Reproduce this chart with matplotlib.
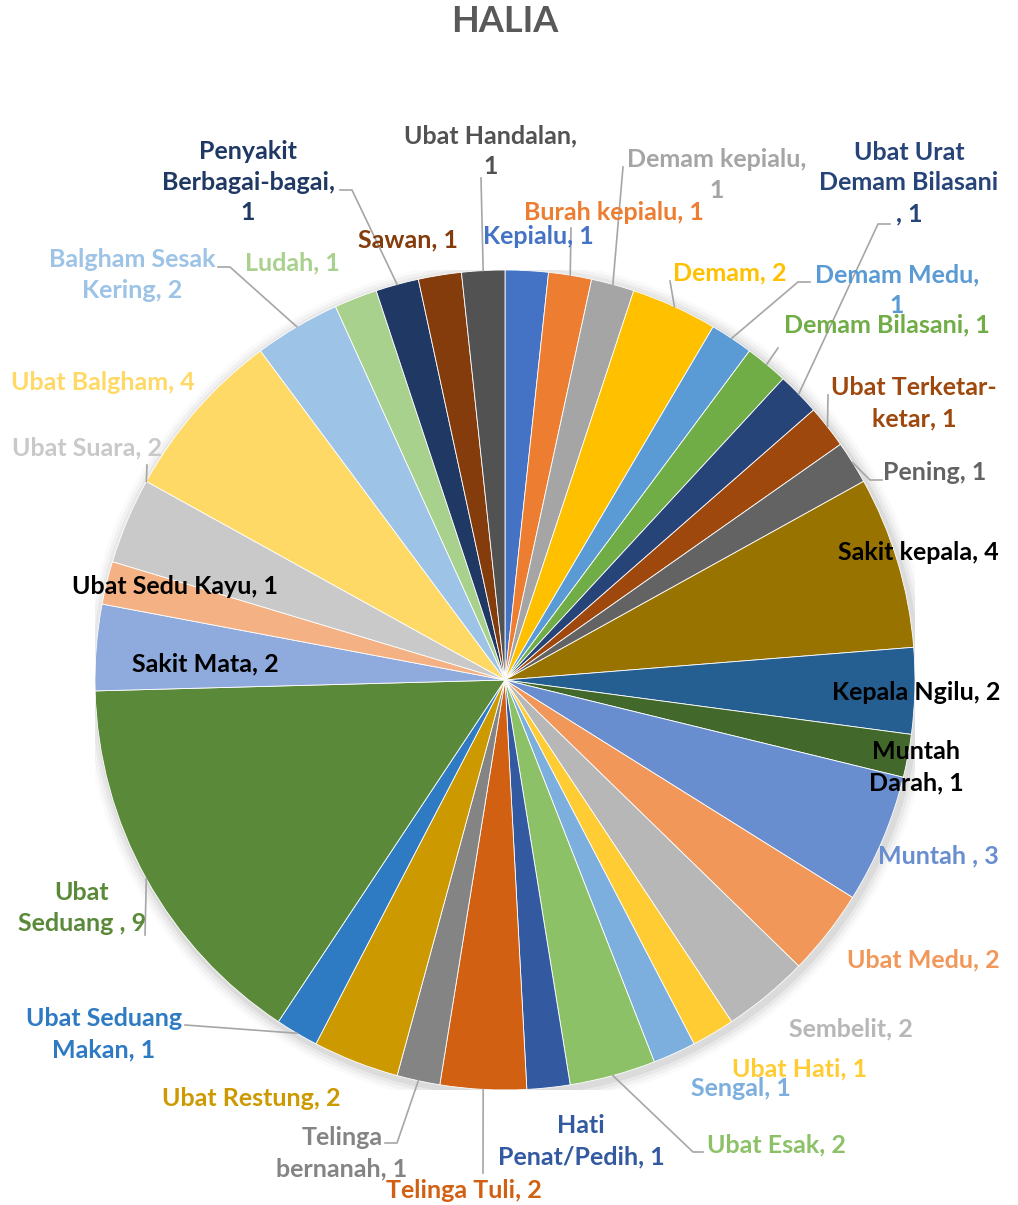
import matplotlib
matplotlib.use("Agg")
import matplotlib.pyplot as plt
import numpy as np
from matplotlib.patches import Circle

plt.rcParams['font.family'] = ['Lato', 'DejaVu Sans']

# ---------------- data ----------------
categories = [
    "Kepialu", "Burah kepialu", "Demam kepialu", "Demam", "Demam Medu",
    "Demam Bilasani", "Ubat Urat Demam Bilasani", "Ubat Terketar-ketar", "Pening",
    "Sakit kepala", "Kepala Ngilu", "Muntah Darah", "Muntah", "Ubat Medu",
    "Sembelit", "Ubat Hati", "Sengal", "Ubat Esak", "Hati Penat/Pedih",
    "Telinga Tuli", "Telinga bernanah", "Ubat Restung", "Ubat Seduang Makan",
    "Ubat Seduang ", "Sakit Mata", "Ubat Sedu Kayu", "Ubat Suara", "Ubat Balgham",
    "Balgham Sesak Kering", "Ludah", "Penyakit Berbagai-bagai", "Sawan",
    "Ubat Handalan",
]
values = [1, 1, 1, 2, 1, 1, 1, 1, 1, 4, 2, 1, 3, 2, 2, 1, 1, 2, 1, 2, 1, 2, 1,
          9, 2, 1, 2, 4, 2, 1, 1, 1, 1]

# label texts as displayed (line breaks as in the chart)
label_texts = [
    "Kepialu, 1", "Burah kepialu, 1", "Demam kepialu,\n1", "Demam, 2",
    "Demam Medu,\n1", "Demam Bilasani, 1", "Ubat Urat\nDemam Bilasani\n, 1",
    "Ubat Terketar-\nketar, 1", "Pening, 1", "Sakit kepala, 4", "Kepala Ngilu, 2",
    "Muntah\nDarah, 1", "Muntah , 3", "Ubat Medu, 2", "Sembelit, 2",
    "Ubat Hati, 1", "Sengal, 1", "Ubat Esak, 2", "Hati\nPenat/Pedih, 1",
    "Telinga Tuli, 2", "Telinga\nbernanah, 1", "Ubat Restung, 2",
    "Ubat Seduang\nMakan, 1", "Ubat\nSeduang , 9", "Sakit Mata, 2",
    "Ubat Sedu Kayu, 1", "Ubat Suara, 2", "Ubat Balgham, 4",
    "Balgham Sesak\nKering, 2", "Ludah, 1", "Penyakit\nBerbagai-bagai,\n1",
    "Sawan, 1", "Ubat Handalan,\n1",
]

colors = [
    "#4472C4", "#ED7D31", "#A5A5A5", "#FFC000", "#5B9BD5", "#70AD47",
    "#264478", "#9E480E", "#636363", "#997300", "#255E91", "#43682B",
    "#698ED0", "#F1975A", "#B7B7B7", "#FFCD33", "#7CAFDD", "#8CC168",
    "#335AA1", "#D26012", "#848484", "#CC9A00", "#2E7BC4", "#5A8A39",
    "#8FAADC", "#F4B183", "#C9C9C9", "#FFD966", "#9DC3E6", "#A9D18E",
    "#203864", "#843C0C", "#525252",
]
label_colors = list(colors)
for name in ["Sakit kepala", "Kepala Ngilu", "Muntah Darah", "Sakit Mata", "Ubat Sedu Kayu"]:
    label_colors[categories.index(name)] = "#000000"

# label centre positions in figure pixels (x from left, y from top)
label_pos = [
    (538, 236), (614, 213), (717, 175), (730, 273), (897, 290), (887, 325),
    (909, 183), (914, 403), (935, 472), (918, 552), (916, 693), (916, 767),
    (938, 856), (923, 960), (851, 1029), (800, 1069), (741, 1089), (776, 1145),
    (581, 1141), (464, 1191), (342, 1153), (251, 1098), (104, 1034), (82, 908),
    (205, 664), (175, 587), (87, 448), (103, 383), (132, 275), (292, 263),
    (248, 182), (408, 240), (491, 151),
]

# leader lines: label-side points in figure pixels, and where along the
# wedge arc (0 = start, 1 = end) the line touches the pie
leaders = {
    "Burah kepialu": ([(571, 228)], 0.5),
    "Demam kepialu": ([(623, 167)], 0.5),
    "Demam": ([(670, 281)], 0.5),
    "Demam Medu": ([(810, 282), (798, 282)], 0.5),
    "Ubat Urat Demam Bilasani": ([(890, 224), (878, 224)], 0.5),
    "Demam Bilasani": ([(778, 348)], 0.5),
    "Ubat Terketar-ketar": ([(828, 395)], 0.5),
    "Pening": ([(882, 480), (870, 480)], 0.5),
    "Ubat Esak": ([(703, 1152), (693, 1152)], 0.5),
    "Telinga Tuli": ([(483, 1173)], 0.5),
    "Telinga bernanah": ([(385, 1143), (397, 1143)], 0.5),
    "Ubat Seduang Makan": ([(185, 1025)], 0.5),
    "Ubat Seduang ": ([(145, 935)], 0.5),
    "Ubat Suara": ([(147, 465)], 1.0),
    "Balgham Sesak Kering": ([(218, 267), (230, 267)], 0.5),
    "Penyakit Berbagai-bagai": ([(340, 190), (352, 190)], 0.5),
    "Ubat Handalan": ([(481, 178)], 0.5),
}

title = "HALIA"

# ---------------- figure ----------------
W, H = 1018, 1205
fig = plt.figure(figsize=(W / 100, H / 100), dpi=100)
fig.patch.set_facecolor("white")

CX, CY, R = 505, 680, 410
ax = fig.add_axes([(CX - R) / W, (H - CY - R) / H, 2 * R / W, 2 * R / H])

# soft shadow around the pie
for i, a in enumerate([0.05, 0.04, 0.03, 0.02]):
    ax.add_patch(Circle((0.006, -0.008), 1.0 + 0.008 * (i + 1), color="black",
                        alpha=a, lw=0, zorder=0))

wedges, _ = ax.pie(values, colors=colors, startangle=90, counterclock=False,
                   radius=1.0,
                   wedgeprops=dict(edgecolor="white", linewidth=0.6, zorder=2))
ax.set_xlim(-1, 1)
ax.set_ylim(-1, 1)
ax.set_aspect("equal")
ax.axis("off")


def px2d(p):
    return ((p[0] - CX) / R, (CY - p[1]) / R)


for i, (w, txt) in enumerate(zip(wedges, label_texts)):
    x, y = px2d(label_pos[i])
    ax.text(x, y, txt, ha="center", va="center", fontsize=18,
            fontweight="bold", color=label_colors[i], linespacing=1.42,
            clip_on=False, zorder=5)
    name = categories[i]
    if name in leaders:
        pts_px, frac = leaders[name]
        # counterclock=False: theta2 is the start, theta1 the end
        ang = np.deg2rad(w.theta2 + (w.theta1 - w.theta2) * frac)
        end = (np.cos(ang), np.sin(ang))
        pts = [px2d(p) for p in pts_px] + [end]
        xs, ys = zip(*pts)
        ax.plot(xs, ys, color="#A6A6A6", lw=1.2, clip_on=False, zorder=4)

fig.text(505 / W, 1 - 22 / H, title, ha="center", va="center", fontsize=26,
         fontweight="bold", color="#595959")

fig.savefig("out.png", dpi=100, facecolor="white")
